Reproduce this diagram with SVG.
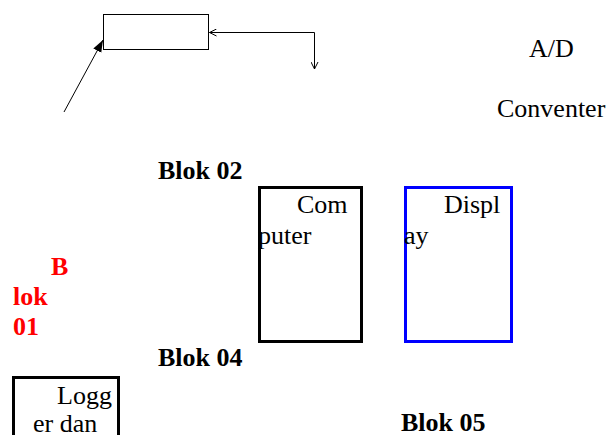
<svg xmlns="http://www.w3.org/2000/svg" width="608" height="435" viewBox="0 0 608 435">
<defs>
<marker id="filled" markerWidth="14" markerHeight="12" refX="12" refY="6" orient="auto" markerUnits="userSpaceOnUse"><path d="M0,1.5 L12,6 L0,10.5 Z" fill="#000"/></marker>
<marker id="open" markerWidth="8" markerHeight="8" refX="7" refY="4" orient="auto" markerUnits="userSpaceOnUse"><path d="M0,0.5 L7,4 L0,7.5" fill="none" stroke="#000" stroke-width="1"/></marker>
</defs>
<style>
text{font-family:"Liberation Serif","Times New Roman",serif;font-size:26px;fill:#000}
.b{font-weight:bold}
.red{fill:#ff0000;font-weight:bold}
.box{fill:none;stroke:#000;stroke-width:3}
</style>
<rect width="608" height="435" fill="#fff"/>
<g id="top-block"><rect x="103.5" y="14.5" width="105" height="35" fill="none" stroke="#000" stroke-width="1"/></g>
<g id="connectors" fill="none" stroke="#000" stroke-width="1">
<line x1="64" y1="112" x2="103" y2="40" marker-end="url(#filled)"/>
<polyline points="314.5,32.5 209.5,32.5" marker-end="url(#open)"/>
<polyline points="314.5,32.5 314.5,69" marker-end="url(#open)"/>
</g>
<g id="ad-converter"><text x="529" y="57">A/D</text><text x="497" y="117">Conventer</text></g>
<g id="blok02-label"><text class="b" x="158" y="179">Blok 02</text></g>
<g id="computer"><rect class="box" x="259.5" y="187.5" width="102" height="154"/><text x="297" y="213">Com</text><text x="258" y="244">puter</text></g>
<g id="display"><rect x="405.5" y="187.5" width="106" height="154" fill="none" stroke="#0000ff" stroke-width="3"/><text x="444" y="213">Displ</text><text x="404" y="244">ay</text></g>
<g id="blok01-label"><text class="red" x="51" y="275">B</text><text class="red" x="13" y="305">lok</text><text class="red" x="13" y="335">01</text></g>
<g id="blok04-label"><text class="b" x="158" y="366">Blok 04</text></g>
<g id="logger"><rect class="box" x="13.5" y="377.5" width="105" height="70"/><text x="57" y="404">Logg</text><text x="33" y="432">er dan</text></g>
<g id="blok05-label"><text class="b" x="401" y="431">Blok 05</text></g>
</svg>
